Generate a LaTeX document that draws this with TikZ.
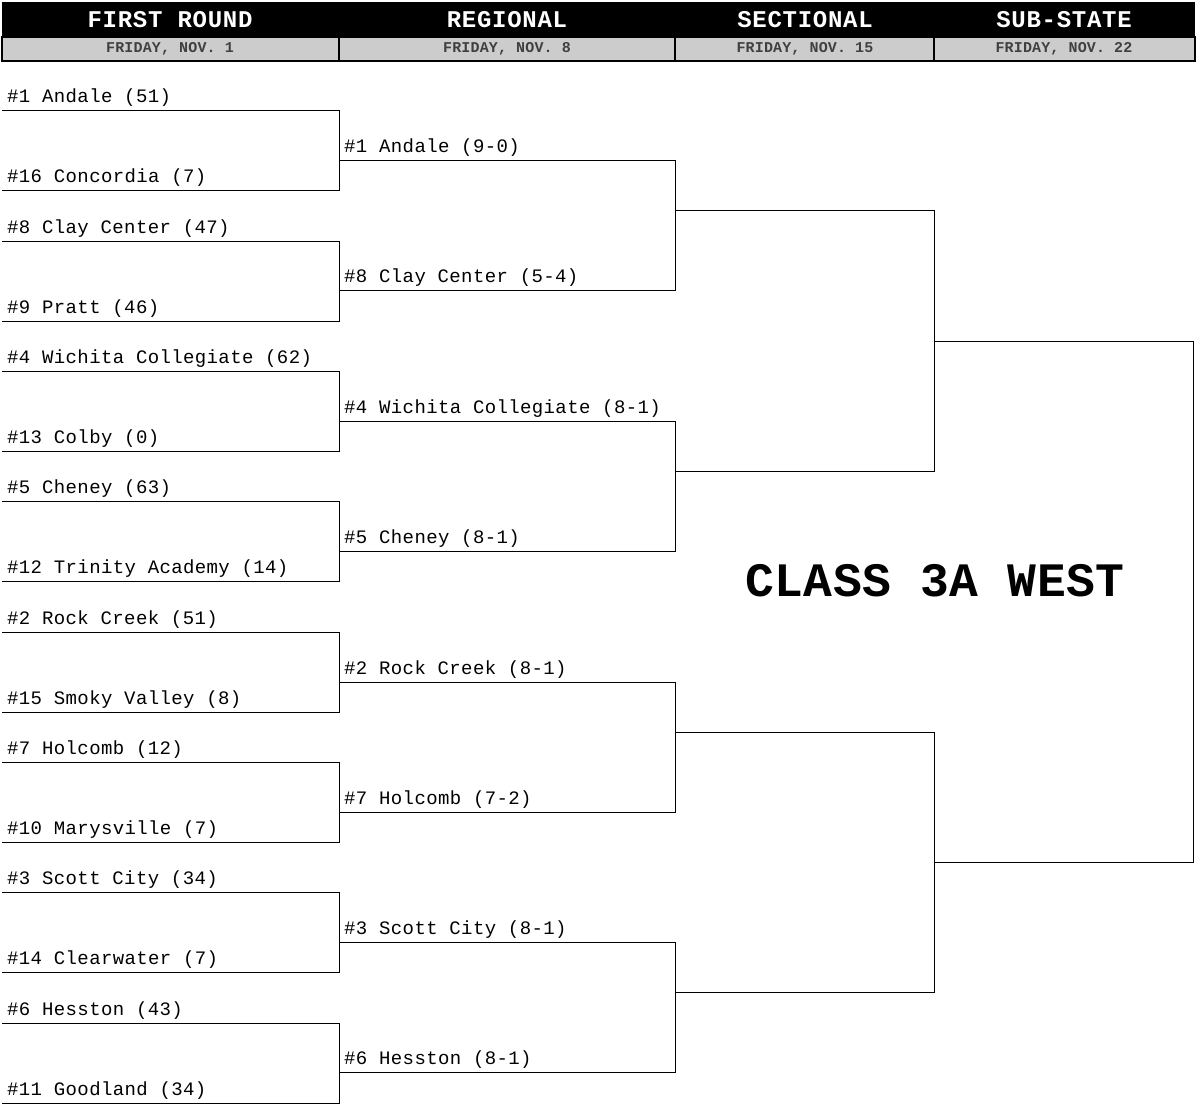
\documentclass[tikz,border=0pt]{standalone}
\usepackage{fontspec}
\newfontfamily\teamfont[LetterSpace=2]{Liberation Mono}
\newfontfamily\headfont[LetterSpace=3]{Liberation Mono Bold}
\newfontfamily\subfont[LetterSpace=1]{Liberation Mono Bold}
\newfontfamily\bigfont[LetterSpace=1]{Liberation Mono Bold}
\begin{document}
\begin{tikzpicture}[x=1pt,y=-1pt,
  ln/.style={line width=1pt},
  team/.style={anchor=base west,inner sep=0pt,font=\teamfont\fontsize{19}{19}\selectfont},
  hd/.style={text=white,font=\headfont\fontsize{24}{24}\selectfont},
  sub/.style={text=black!75,font=\subfont\fontsize{15}{15}\selectfont}]
\useasboundingbox (0,0) rectangle (1200,1110);
\fill[black] (2,2) rectangle (1195,37);
\filldraw[fill=black!20,draw=black,line width=1.5pt] (2,37) rectangle (1195,61);
\foreach \x in {339,675,934} \draw[line width=1.5pt] (\x,37) -- (\x,61);
\node[hd] (h1) at (170,20) {FIRST ROUND};
\node[hd] (h2) at (507,20) {REGIONAL};
\node[hd] (h3) at (805,20) {SECTIONAL};
\node[hd] (h4) at (1064,20) {SUB-STATE};
\node[sub] (s1) at (170,49) {FRIDAY, NOV. 1};
\node[sub] (s2) at (507,49) {FRIDAY, NOV. 8};
\node[sub] (s3) at (805,49) {FRIDAY, NOV. 15};
\node[sub] (s4) at (1064,49) {FRIDAY, NOV. 22};
% first round
\foreach \k/\a/\b in {0/{\#1 Andale (51)}/{\#16 Concordia (7)},
  1/{\#8 Clay Center (47)}/{\#9 Pratt (46)},
  2/{\#4 Wichita Collegiate (62)}/{\#13 Colby (0)},
  3/{\#5 Cheney (63)}/{\#12 Trinity Academy (14)},
  4/{\#2 Rock Creek (51)}/{\#15 Smoky Valley (8)},
  5/{\#7 Holcomb (12)}/{\#10 Marysville (7)},
  6/{\#3 Scott City (34)}/{\#14 Clearwater (7)},
  7/{\#6 Hesston (43)}/{\#11 Goodland (34)}}{
  \pgfmathsetmacro\yt{111+130.3*\k}
  \pgfmathsetmacro\yb{191+130.3*\k}
  \draw[ln] (2,\yt) -- (339,\yt) -- (339,\yb) -- (2,\yb);
  \node[team] (fa\k) at (7,\yt-8) {\a};
  \node[team] (fb\k) at (7,\yb-8) {\b};
}
% regional
\foreach \k/\a/\b in {0/{\#1 Andale (9-0)}/{\#8 Clay Center (5-4)},
  1/{\#4 Wichita Collegiate (8-1)}/{\#5 Cheney (8-1)},
  2/{\#2 Rock Creek (8-1)}/{\#7 Holcomb (7-2)},
  3/{\#3 Scott City (8-1)}/{\#6 Hesston (8-1)}}{
  \pgfmathsetmacro\yt{161+260.6*\k}
  \pgfmathsetmacro\yb{291+260.6*\k}
  \draw[ln] (339,\yt) -- (675,\yt) -- (675,\yb) -- (339,\yb);
  \node[team] (ra\k) at (344,\yt-8) {\a};
  \node[team] (rb\k) at (344,\yb-8) {\b};
}
% sectional
\foreach \k in {0,1}{
  \pgfmathsetmacro\yt{211+521.2*\k}
  \pgfmathsetmacro\yb{471+521.2*\k}
  \draw[ln] (675,\yt) -- (934,\yt) -- (934,\yb) -- (675,\yb);
}
\draw[ln] (934,341) -- (1193,341) -- (1193,862) -- (934,862);
\node[font=\bigfont\fontsize{48}{48}\selectfont] (title) at (935,581) {CLASS 3A WEST};
\end{tikzpicture}
\end{document}
